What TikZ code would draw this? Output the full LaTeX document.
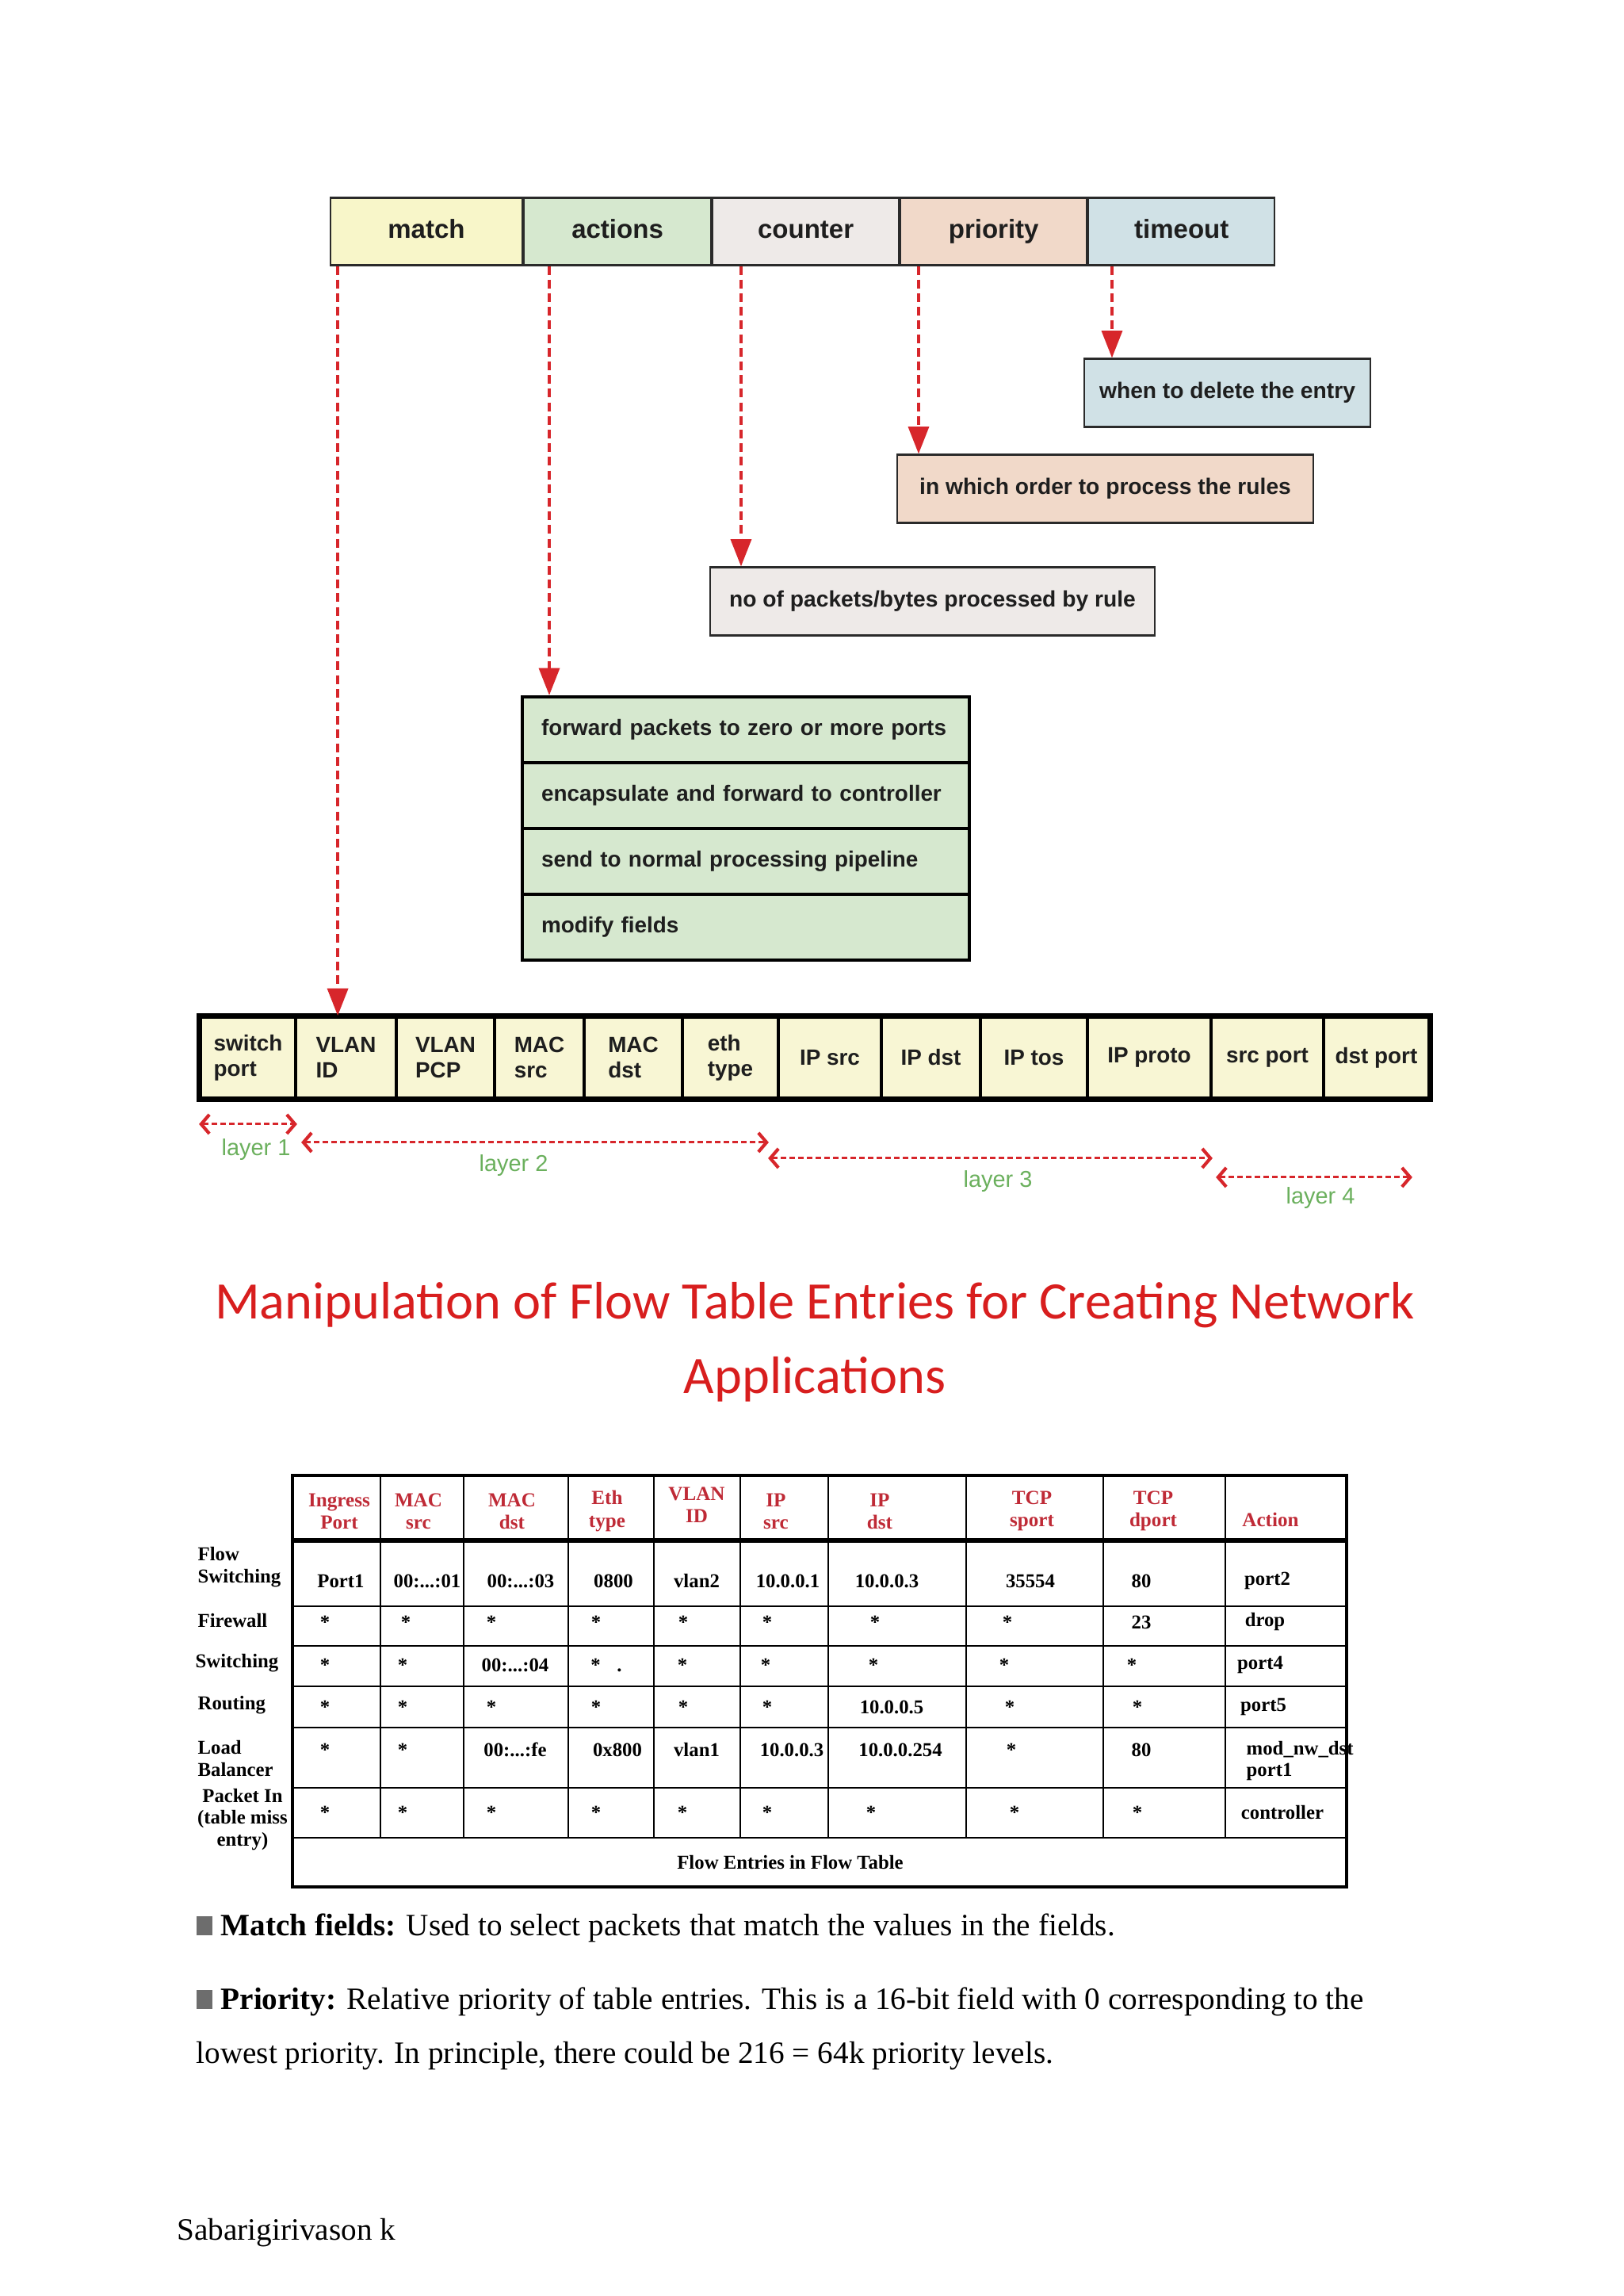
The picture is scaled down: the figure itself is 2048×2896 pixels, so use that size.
\documentclass[tikz,border=0pt]{standalone}
\usepackage{fontspec}
\setmainfont{Liberation Serif}
\newfontfamily\figsans{Liberation Sans}
\newfontfamily\titlefont{Carlito}
\usepackage{tikz}
\usetikzlibrary{arrows.meta,positioning,calc}
\definecolor{fmatch}{HTML}{F8F6C9}
\definecolor{factions}{HTML}{D6E8CF}
\definecolor{fcounter}{HTML}{EEEAE8}
\definecolor{fprio}{HTML}{F1D9C9}
\definecolor{ftimeout}{HTML}{D0E1E6}
\definecolor{ffield}{HTML}{F8F6D4}
\definecolor{fdark}{HTML}{2A2A2A}
\definecolor{ftext}{HTML}{1E1E1E}
\definecolor{fred}{HTML}{D7262B}
\definecolor{fgreen}{HTML}{6BB05D}
\definecolor{ftitle}{HTML}{D81E1E}
\definecolor{fhead}{HTML}{BF2A36}
\definecolor{fbullet}{HTML}{6D6D6D}
\def\px{0.29068pt}
\newcommand{\sqbullet}{{\color{fbullet}\rule{6pt}{7pt}}\hspace{3pt}}
\newcommand{\tdots}{...}

\tikzset{
  hdrbox/.style={draw=fdark, line width=0.6pt, minimum height=85*\px, inner sep=0pt, text=ftext,
    text height=7pt, text depth=2pt, font=\figsans\fontsize{9.6}{11}\selectfont\bfseries},
  descbox/.style={draw=fdark, line width=0.6pt, minimum height=86*\px, inner sep=0pt, text=ftext,
    text height=6pt, text depth=1.7pt, font=\figsans\fontsize{8.2}{10}\selectfont\bfseries},
  actrow/.style={draw=black, line width=1.2pt, fill=factions, minimum width=564*\px, minimum height=83*\px,
    inner xsep=24*\px, inner ysep=0pt, text width=516*\px, align=left, text=ftext,
    font=\figsans\fontsize{8.1}{10}\selectfont\bfseries},
  fcell/.style={draw=black, line width=1.1pt, fill=ffield, minimum height=102*\px, inner sep=0pt, align=left,
    text=ftext, font=\figsans\fontsize{8.1}{9.4}\selectfont\bfseries},
  flowarr/.style={draw=fred, line width=1.2pt, dash pattern=on 3.2pt off 1.8pt, -{Triangle[length=10pt,width=7.5pt]}},
  layerarr/.style={draw=fred, line width=0.9pt, dash pattern=on 2pt off 1.2pt,
    {Straight Barb[length=3pt,width=7pt,line width=1.2pt]}-{Straight Barb[length=3pt,width=7pt,line width=1.2pt]}},
  laylab/.style={text=fgreen, inner sep=0pt, font=\figsans\fontsize{8.4}{10}\selectfont},
  tline/.style={draw=black, line width=0.7pt},
  thead/.style={text=fhead, inner sep=0pt, align=center, font=\fontsize{7.3}{8.2}\selectfont\bfseries},
  tcell/.style={inner sep=0pt, font=\fontsize{7.2}{8.1}\selectfont\bfseries},
  rlabel/.style={inner sep=0pt, align=left, font=\fontsize{7.2}{8.1}\selectfont\bfseries},
  bodytxt/.style={inner sep=0pt, font=\fontsize{11.4}{14}\selectfont},
}

\begin{document}
\begin{tikzpicture}[x=0.29068pt,y=-0.29068pt]
  \fill[white] (0,0) rectangle (2048,2896);
  \useasboundingbox (0,0) rectangle (2048,2896);

  \node[hdrbox, fill=fmatch, minimum width=242*\px] (match) at (538,292) {match};
  \node[hdrbox, fill=factions, minimum width=236*\px, right=0pt of match] (actions) {actions};
  \node[hdrbox, fill=fcounter, minimum width=235*\px, right=0pt of actions] (counter) {counter};
  \node[hdrbox, fill=fprio, minimum width=235*\px, right=0pt of counter] (priority) {priority};
  \node[hdrbox, fill=ftimeout, minimum width=235*\px, right=0pt of priority] (timeout) {timeout};

  \node[descbox, fill=ftimeout, minimum width=361*\px] (delete) at (1548.5,495.5) {when to delete the entry};
  \node[descbox, fill=fprio, minimum width=525*\px] (order) at (1394.5,616.5) {in which order to process the rules};
  \node[descbox, fill=fcounter, minimum width=561*\px] (pkts) at (1176.5,758.5) {no of packets/bytes processed by rule};

  \foreach \t [count=\i] in {forward packets to zero or more ports, encapsulate and forward to controller,
      send to normal processing pipeline, modify fields}
    \node[actrow, anchor=north west] (act\i) at (657,{877+83*(\i-1)}) {\t};

  \foreach \lab/\xa/\xb [count=\i] in {switch\\port/253/373, VLAN\\ID/373/500, VLAN\\PCP/500/624, MAC\\src/624/737,
      MAC\\dst/737/861, eth\\type/861/982, IP src/982/1112, IP dst/1112/1237, IP tos/1237/1372,
      IP proto/1372/1528, src port/1528/1670, dst port/1670/1803}
    \node[fcell, minimum width={(\xb-\xa)*\px}] (f\i) at ({(\xa+\xb)/2},1334) {\lab};
  \draw[line width=1.6pt] (f1.north west) rectangle (f12.south east);

  \draw[flowarr] ([xshift=55*\px]f2.north west |- match.south) -- ([xshift=55*\px]f2.north west);
  \draw[flowarr] ([xshift=36*\px]act1.north west |- actions.south) -- ([xshift=36*\px]act1.north west);
  \draw[flowarr] ([xshift=40*\px]pkts.north west |- counter.south) -- ([xshift=40*\px]pkts.north west);
  \draw[flowarr] ([xshift=28*\px]order.north west |- priority.south) -- ([xshift=28*\px]order.north west);
  \draw[flowarr] ([xshift=36*\px]delete.north west |- timeout.south) -- ([xshift=36*\px]delete.north west);

  \draw[layerarr] ([yshift=-31*\px]f1.south west) -- ([yshift=-31*\px]f1.south east);
  \draw[layerarr] ([xshift=9*\px,yshift=-54*\px]f2.south west) -- ([xshift=-14*\px,yshift=-54*\px]f6.south east);
  \draw[layerarr] ([xshift=-11*\px,yshift=-74*\px]f7.south west) -- ([yshift=-74*\px]f10.south east);
  \draw[layerarr] ([xshift=8*\px,yshift=-98*\px]f11.south west) -- ([xshift=-23*\px,yshift=-98*\px]f12.south east);
  \node[laylab] (lay1) at (323,1450) {layer 1};
  \node[laylab] (lay2) at (648,1470) {layer 2};
  \node[laylab] (lay3) at (1259,1490) {layer 3};
  \node[laylab] (lay4) at (1666,1511) {layer 4};

  \node[text=ftitle, align=center, inner sep=0pt, font=\titlefont\fontsize{19.3}{27.2}\selectfont] (title) at (1028,1693)
    {Manipulation of Flow Table Entries for Creating Network\\Applications};

  \draw[line width=1.3pt] (369,1861) rectangle (1699,2380);
  \foreach \x in {480,585,717,825,934,1045,1219,1392,1546} \draw[tline] (\x,1861) -- (\x,2318);
  \foreach \y in {2026,2076,2127,2179,2255,2318} \draw[tline] (369,\y) -- (1699,\y);
  \draw[line width=1.7pt] (369,1943) -- (1699,1943);

  \foreach \x/\y/\t [count=\i] in {428/1906/Ingress\\Port, 528/1906/MAC\\src, 646/1906/MAC\\dst, 766/1906/Eth\\type,
      879/1898/VLAN\\ID, 979/1906/IP\\src, 1110/1906/IP\\dst, 1302/1906/TCP\\sport, 1455/1906/TCP\\dport, 1603/1917/Action}
    \node[thead] (h\i) at (\x,\y) {\t};

  \foreach \x/\t [count=\i] in {430/Port1, 539/00:\tdots:01, 657/00:\tdots:03, 774/0800, 879/vlan2, 994/10.0.0.1,
      1119/10.0.0.3, 1300/35554, 1440/80, 1599/port2}
    \node[tcell] (ra\i) at (\x,1994) {\t};
  \foreach \x/\t [count=\i] in {410/*, 512/*, 620/*, 752/*, 862/*, 968/*, 1104/*, 1271/*, 1440/23, 1596/drop}
    \node[tcell] (rb\i) at (\x,2046) {\t};
  \foreach \x/\t [count=\i] in {410/*, 508/*, 650/00:\tdots:04, 765/*\hspace{6pt}., 861/*, 966/*, 1102/*, 1267/*, 1428/*, 1590/port4}
    \node[tcell] (rc\i) at (\x,2100) {\t};
  \foreach \x/\t [count=\i] in {410/*, 508/*, 620/*, 752/*, 862/*, 968/*, 1125/10.0.0.5, 1274/*, 1435/*, 1594/port5}
    \node[tcell] (rd\i) at (\x,2153) {\t};
  \foreach \x/\t [count=\i] in {410/*, 508/*, 650/00:\tdots:fe, 779/0x800, 879/vlan1, 999/10.0.0.3, 1136/10.0.0.254, 1276/*, 1440/80}
    \node[tcell] (re\i) at (\x,2207) {\t};
  \node[tcell, align=left, anchor=west] (re10) at (1572,2221) {mod\_nw\_dst\\port1};
  \foreach \x/\t [count=\i] in {410/*, 508/*, 620/*, 752/*, 861/*, 968/*, 1099/*, 1280/*, 1435/*, 1618/controller}
    \node[tcell] (rf\i) at (\x,2286) {\t};
  \node[tcell] (foot) at (997,2349) {Flow Entries in Flow Table};

  \node[rlabel, anchor=west] (rl1) at (249,1977) {Flow\\Switching};
  \node[rlabel, anchor=west] (rl2) at (249,2044) {Firewall};
  \node[rlabel, anchor=west] (rl3) at (246,2098) {Switching};
  \node[rlabel, anchor=west] (rl4) at (249,2151) {Routing};
  \node[rlabel, anchor=west] (rl5) at (249,2218) {Load\\Balancer};
  \node[rlabel, align=center] (rl6) at (306,2295) {Packet In\\(table miss\\entry)};

  \node[bodytxt, anchor=base west] (mf) at (247,2441)
    {\sqbullet\textbf{Match fields:} Used to select packets that match the values in the fields.};
  \node[bodytxt, anchor=base west] (pr1) at (247,2534)
    {\sqbullet\textbf{Priority:} Relative priority of table entries. This is a 16-bit field with 0 corresponding to the};
  \node[bodytxt, anchor=base west] (pr2) at (247,2602)
    {lowest priority. In principle, there could be 216 = 64k priority levels.};
  \node[bodytxt, anchor=base west] (auth) at (223,2825) {Sabarigirivason k};
\end{tikzpicture}
\end{document}
